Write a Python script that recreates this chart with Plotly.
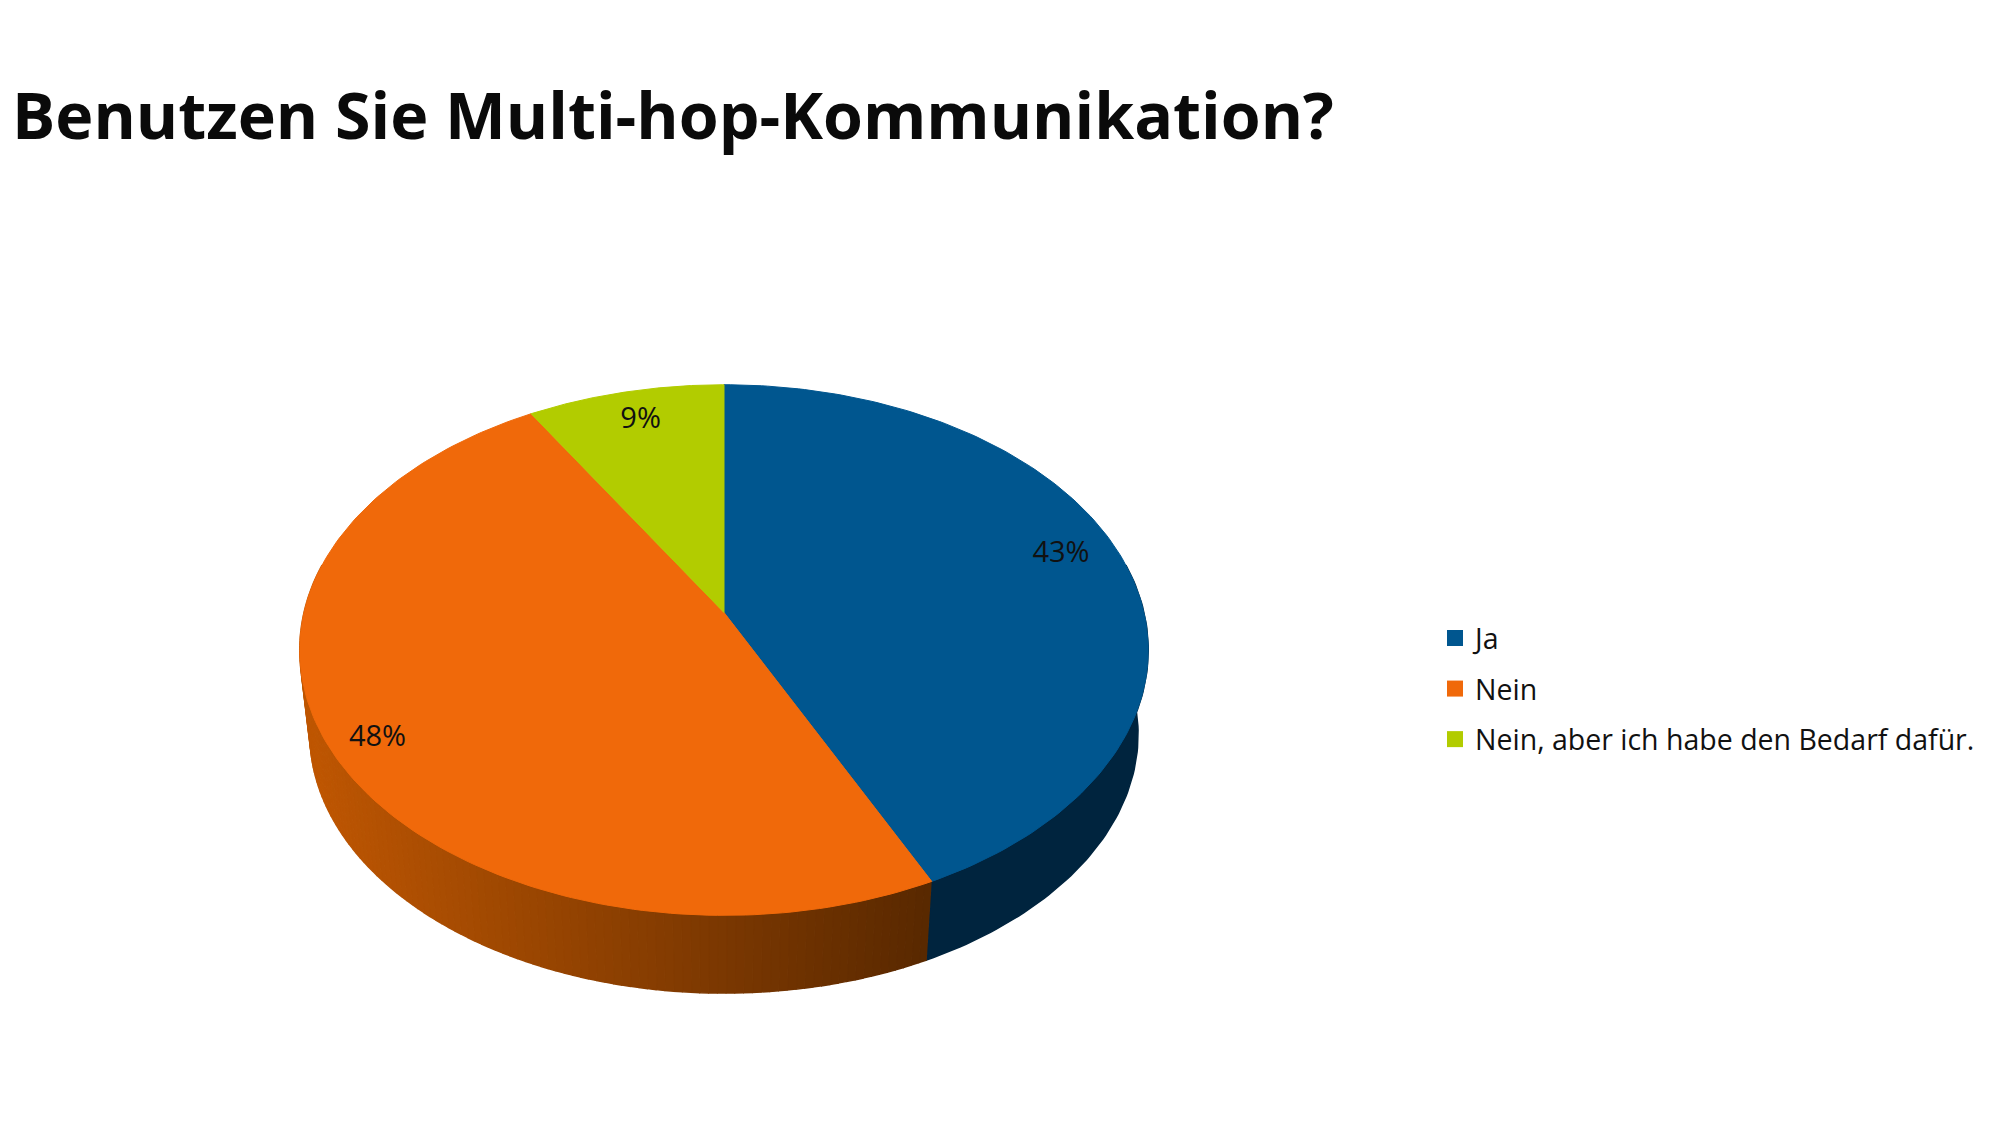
#!/usr/bin/env python3
import numpy as np
import plotly.graph_objs as go

title = "Benutzen Sie Multi-hop-Kommunikation?"
categories = ["Ja", "Nein", "Nein, aber ich habe den Bedarf dafür."]
shares = [42.9, 48.49, 8.61]
top_colors = ["#00568f", "#f0690a", "#b2cc00"]

# pie geometry in page pixels
CX, CY = 724, 612.5      # apex of the top face
RX, RY = 420, 260        # disc radii before perspective
PERSP = 0.1415           # how much the far edge shrinks
WALL_DROP = 85           # apex of the lower disc sits this far below
WALL_SCALE = 0.976
LABEL_R = 0.86
# the original labels don't sit on one radius
label_nudge = [(-6, -10), (-9, 14), (3, 1)]


def project(turn, r=1.0, scale=1.0, drop=0):
    # turn runs clockwise from 12 o'clock, 1.0 is a full circle
    a = 2 * np.pi * np.asarray(turn)
    x, y = r * np.sin(a), r * np.cos(a)
    w = 1 + PERSP * y
    return CX + scale * RX * x / w, CY + drop - scale * RY * y / w


def wall_color(px):
    # orange side gets darker towards the right
    left, right = np.array([190, 86, 2]), np.array([88, 40, 0])
    t = np.clip((px - 311) / (935 - 311), 0, 1)
    r, g, b = left + (right - left) * t
    return f"rgb({r:.0f},{g:.0f},{b:.0f})"


def wall_piece(lo, hi, color, n):
    seg = np.linspace(lo, hi, n)
    tx, ty = project(seg)
    bx, by = project(seg[::-1], scale=WALL_SCALE, drop=WALL_DROP)
    return go.Scatter(
        x=np.r_[tx, bx], y=np.r_[ty, by], mode="lines", fill="toself",
        fillcolor=color, line=dict(color=color, width=1.5),
        hoverinfo="skip", showlegend=False,
    )


fig = go.Figure()
edges = np.cumsum([0] + shares) / 100.0

# side wall, only the front half can be seen
wall_start, wall_end = 0.22, 0.78
fig.add_trace(wall_piece(wall_start, edges[1], "#00243e", 80))
steps = np.linspace(edges[1], wall_end, 121)
for a, b in zip(steps[:-1], steps[1:]):
    mid_x, _ = project((a + b) / 2)
    fig.add_trace(wall_piece(a, b, wall_color(mid_x), 3))

# top face
for i, name in enumerate(categories):
    seg = np.linspace(edges[i], edges[i + 1], 160)
    px, py = project(seg)
    fig.add_trace(go.Scatter(
        x=np.r_[CX, px, CX], y=np.r_[CY, py, CY], mode="lines", fill="toself",
        fillcolor=top_colors[i], line=dict(color=top_colors[i], width=1),
        name=name, hoverinfo="name", showlegend=False,
    ))

# percent labels
mids = (edges[:-1] + edges[1:]) / 2
lx, ly = project(mids, r=LABEL_R)
lx = lx + np.array([n[0] for n in label_nudge])
ly = ly + np.array([n[1] for n in label_nudge])
fig.add_trace(go.Scatter(
    x=lx, y=ly, mode="text", text=[f"{v:.0f}%" for v in shares],
    textposition="middle center",
    textfont=dict(family="Open Sans", size=29, color="#111111"),
    hoverinfo="skip", showlegend=False,
))

# legend entries
for name, color in zip(categories, top_colors):
    fig.add_trace(go.Scatter(
        x=[None], y=[None], mode="markers", name=name, legendgroup=name,
        marker=dict(symbol="square", size=16, color=color),
    ))

fig.update_layout(
    width=2000,
    height=1124,
    margin=dict(l=0, r=0, t=0, b=0),
    paper_bgcolor="white",
    plot_bgcolor="white",
    title=dict(
        text=f"<b>{title}</b>", x=12 / 2000, xanchor="left",
        y=1 - 116 / 1124, yanchor="middle",
        font=dict(family="Open Sans", size=64.5, color="#0a0a0a"),
    ),
    xaxis=dict(range=[0, 2000], visible=False, fixedrange=True),
    yaxis=dict(range=[1124, 0], visible=False, fixedrange=True),
    legend=dict(
        x=1435 / 2000, xanchor="left", y=1 - 613 / 1124, yanchor="top",
        font=dict(family="Open Sans", size=28.5, color="#111111"),
        tracegroupgap=10.5, bgcolor="rgba(0,0,0,0)",
    ),
)

fig.write_html(
    "out.html",
    config={"displayModeBar": False},
    post_script="document.body.style.margin='0';document.body.style.overflow='hidden';",
)
